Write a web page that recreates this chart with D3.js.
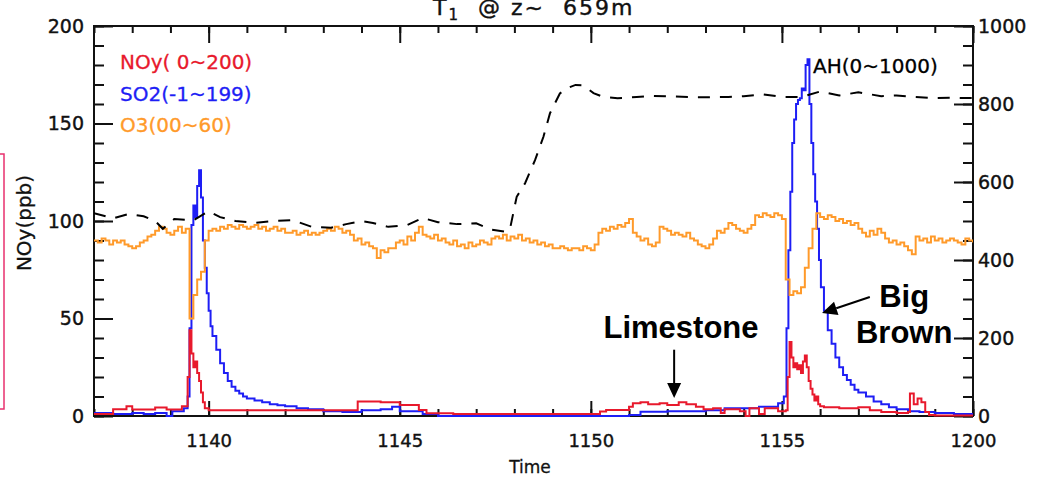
<!DOCTYPE html>
<html><head><meta charset="utf-8">
<script src="https://cdn.jsdelivr.net/npm/d3@7"></script>
<style>
html,body{margin:0;padding:0;background:#fff;overflow:hidden;}
svg{display:block;}
</style></head><body>
<svg id="chart" width="1037" height="481"></svg>
<script>
// ---------- DATA ----------
const timeTicks = [40, 45, 50, 55, 60];                 // minutes after 11:00
const timeTickLabels = ["1140", "1145", "1150", "1155", "1200"];
const leftTicks = [0, 50, 100, 150, 200];
const rightTicks = [0, 200, 400, 600, 800, 1000];
const legendLabels = ["NOy( 0~200)", "SO2(-1~199)", "O3(00~60)"];
const ahLabel = "AH(0~1000)";

// O3 sampled every 0.1 min from 11:37
const o3Start = 37, o3Step = 0.1;
const o3Values = [
  90, 89, 91, 90, 88, 90, 89, 90, 88, 87,
  86, 87, 89, 90, 92, 93, 95, 97, 96, 94,
  93, 95, 97, 94, 96, 50, 62, 70, 74, 90,
  95, 96, 95, 97, 96, 98, 97, 96, 98, 97,
  96, 97, 98, 96, 97, 95, 96, 97, 95, 96,
  94, 94, 95, 93, 94, 95, 93, 94, 93, 94,
  95, 96, 95, 97, 96, 94, 95, 93, 90, 91,
  88, 89, 87, 86, 81, 85, 84, 86, 86, 89,
  90, 88, 92, 90, 94, 97, 93, 92, 91, 93,
  90, 91, 89, 88, 90, 87, 88, 86, 89, 87,
  88, 90, 89, 88, 91, 92, 91, 93, 90, 92,
  91, 93, 90, 91, 89, 90, 88, 89, 87, 88,
  86, 86, 87, 86, 85, 86, 86, 85, 87, 86,
  85, 88, 94, 96, 95, 97, 96, 98, 97, 99,
  101, 94, 92, 90, 91, 88, 87, 89, 97, 96,
  95, 93, 94, 93, 92, 94, 91, 90, 88, 87,
  86, 88, 91, 95, 94, 96, 99, 98, 96, 95,
  94, 96, 98, 103, 102, 104, 103, 102, 104, 103,
  101, 70, 62, 64, 63, 66, 76, 86, 96, 104,
  102, 101, 103, 102, 100, 101, 99, 100, 98, 99,
  96, 94, 92, 95, 93, 96, 94, 91, 89, 90,
  88, 89, 87, 85, 83, 92, 90, 91, 89, 92,
  90, 91, 89, 90, 91, 90, 89, 88, 91, 90,
  89
];

// SO2 [minute, value]
const so2Data = [
  [37.0,1.5],[37.5,1],[38.0,1.5],[38.3,1],[38.6,1.5],[38.9,0],[39.05,2.5],[39.35,4],
  [39.45,10],[39.5,45],[39.55,98],[39.6,108],[39.65,102],[39.7,118],[39.75,126],[39.8,112],
  [39.85,90],[39.9,76],[39.95,63],[40.0,54],[40.05,46],[40.1,41],[40.2,34],[40.3,27],
  [40.4,22],[40.5,18],[40.6,15],[40.7,13],[40.8,11.5],[40.9,10],[41.0,9],[41.2,8],
  [41.4,7],[41.6,6],[41.8,5.5],[42.0,5],[42.3,4],[42.6,3.5],[43.0,2.5],[43.5,2],
  [44.0,3],[44.5,3.5],[44.8,4.8],[45.0,2.5],[45.6,1],[46.0,0],[51.0,0.5],[51.3,2.2],
  [52.0,2.5],[53.0,3],[53.5,4],[54.4,4.8],[54.9,6.5],[55.05,10],[55.12,45],[55.17,85],
  [55.22,115],[55.27,140],[55.32,152],[55.37,160],[55.42,162],[55.47,163],[55.52,168],[55.57,167],
  [55.62,180],[55.67,183],[55.72,160],[55.77,140],[55.82,124],[55.87,110],[55.92,96],[55.97,80],
  [56.02,66],[56.1,54],[56.2,44],[56.3,37],[56.4,30],[56.5,25],[56.6,21],[56.7,18.5],
  [56.8,16],[56.9,13.5],[57.0,12],[57.2,10],[57.4,7.5],[57.6,6],[57.8,4.5],[58.0,3.5],
  [58.3,2.5],[58.6,2],[59.0,1.5],[59.5,1],[60.0,1]
];

// NOy [minute, value]
const noyData = [
  [37.0,1],[37.5,3.5],[37.85,5],[38.0,3.3],[38.6,4.3],[38.9,3.3],[39.3,5],[39.45,20],
  [39.5,44],[39.55,32],[39.6,25],[39.65,28],[39.7,22],[39.75,18],[39.8,12],[39.85,7],
  [39.9,4],[40.0,3],[43.9,7.4],[44.5,7],[45.0,5.7],[45.5,3.1],[45.7,1.4],[46.4,1],
  [50.24,2.3],[50.4,3.1],[51.0,4.8],[51.1,6.5],[51.3,7],[51.5,6],[51.8,6.5],[52.0,5.6],
  [52.3,7],[52.5,6],[52.75,4.8],[52.95,3.5],[53.2,4],[53.4,1.5],[53.5,3.5],[53.9,2.5],
  [54.05,0],[54.15,4],[54.4,1],[54.55,4],[54.9,2.5],[55.1,3],[55.15,20],[55.2,38],
  [55.25,30],[55.3,25],[55.35,27],[55.4,24],[55.45,26],[55.5,22],[55.55,28],[55.6,31],
  [55.65,25],[55.7,18],[55.75,14],[55.8,11],[55.85,8],[55.9,10],[55.95,6],[56.0,5],
  [56.1,4.5],[56.5,4],[57.0,4.5],[57.3,3],[57.6,2],[58.0,1.5],[58.3,2],[58.35,11.5],
  [58.45,6],[58.55,9],[58.65,7],[58.75,2],[58.85,0.5],[59.0,0.3],[60.0,0.3]
];

// AH (right axis) [minute, value]
const ahData = [
  [37.0,520],[37.5,507],[37.9,518],[38.3,512],[38.6,500],[38.8,480],[39.1,505],[39.6,502],
  [40.0,525],[40.3,510],[40.7,500],[41.2,495],[41.7,500],[42.2,502],[42.7,485],[43.2,483],
  [43.6,492],[44.0,500],[44.3,495],[44.7,485],[45.2,490],[45.6,508],[46.0,497],[46.5,492],
  [47.0,494],[47.4,478],[47.8,472],[47.9,487],[48.06,562],[48.28,597],[48.54,656],[48.76,716],
  [48.93,776],[49.19,827],[49.37,840],[49.6,849],[49.8,848],[50.07,828],[50.3,819],[50.7,815],
  [51.2,818],[51.6,821],[52.2,819],[53.0,817],[53.6,818],[54.0,820],[54.5,825],[55.0,818],
  [55.5,818],[56.0,832],[56.5,822],[57.0,830],[57.6,820],[58.0,822],[58.5,818],[59.0,815],
  [59.5,816],[60.0,815]
];

// annotations in data coords: [minute, left-axis value]
const annLimestone = {text: "Limestone", at: [52.36, 40], from: [52.18, 34], to: [52.18, 9.2]};
const annBigBrown = {lines: ["Big", "Brown"], at: [58.2, 56], from: [57.30, 61], to: [56.05, 52.8]};

// ---------- LAYOUT ----------
const W = 1037, H = 481;
const L = 94, R = 973, T = 26, B = 416;
const AX = "#111";
const C_NOY = "#e8192c", C_SO2 = "#1e1ef5", C_O3 = "#ff9a2a";
const FONT = "'DejaVu Sans', sans-serif";
const BOLD = "'Liberation Sans', Arial, sans-serif";

const svg = d3.select("#chart");
svg.append("rect").attr("width", W).attr("height", H).attr("fill", "#fff");

const x = d3.scaleLinear().domain([37, 60]).range([L, R]);
const yL = d3.scaleLinear().domain([0, 200]).range([B, T]);
const yR = d3.scaleLinear().domain([0, 1000]).range([B, T]);

svg.append("defs").append("clipPath").attr("id", "clip")
  .append("rect").attr("x", L).attr("y", T - 1).attr("width", R - L).attr("height", B - T + 2);

function styleAxis(g, fs) {
  g.select(".domain").remove();
  g.selectAll(".tick line").attr("stroke", AX).attr("stroke-width", 2);
  g.selectAll(".tick text").attr("fill", AX).attr("font-family", FONT).attr("font-size", fs)
    .attr("stroke", AX).attr("stroke-width", 0.4);
}

// left axis
svg.append("g").attr("transform", `translate(${L},0)`)
  .call(d3.axisLeft(yL).tickValues(d3.range(0, 201, 10)).tickSize(-10).tickFormat(""))
  .call(g => styleAxis(g, 19));
svg.append("g").attr("transform", `translate(${L},0)`)
  .call(d3.axisLeft(yL).tickValues(leftTicks).tickSize(-19).tickPadding(10).tickFormat(d3.format("d")))
  .call(g => styleAxis(g, 19));

// right axis
svg.append("g").attr("transform", `translate(${R},0)`)
  .call(d3.axisRight(yR).tickValues(d3.range(0, 1001, 50)).tickSize(-10).tickFormat(""))
  .call(g => styleAxis(g, 19));
svg.append("g").attr("transform", `translate(${R},0)`)
  .call(d3.axisRight(yR).tickValues(rightTicks).tickSize(-19).tickPadding(5).tickFormat(d3.format("d")))
  .call(g => styleAxis(g, 19));

// bottom axis
svg.append("g").attr("transform", `translate(0,${B})`)
  .call(d3.axisBottom(x).tickValues(d3.range(37, 61, 1)).tickSize(-7).tickFormat(""))
  .call(g => styleAxis(g, 18));
svg.append("g").attr("transform", `translate(0,${B})`)
  .call(d3.axisBottom(x).tickValues(timeTicks).tickSize(-15).tickPadding(18)
    .tickFormat((d, i) => timeTickLabels[i]))
  .call(g => styleAxis(g, 18));

// top axis
svg.append("g").attr("transform", `translate(0,${T})`)
  .call(d3.axisTop(x).tickValues(d3.range(37, 61, 1)).tickSize(-7).tickFormat(""))
  .call(g => styleAxis(g, 18));
svg.append("g").attr("transform", `translate(0,${T})`)
  .call(d3.axisTop(x).tickValues(timeTicks).tickSize(-17).tickFormat(""))
  .call(g => styleAxis(g, 18));

// frame
svg.append("rect").attr("x", L).attr("y", T).attr("width", R - L).attr("height", B - T)
  .attr("fill", "none").attr("stroke", AX).attr("stroke-width", 2);

// ---------- SERIES ----------
const plot = svg.append("g").attr("clip-path", "url(#clip)");
const stepL = d3.line().x(d => x(d[0])).y(d => yL(d[1])).curve(d3.curveStepAfter);
const o3Data = o3Values.map((v, i) => [o3Start + i * o3Step, v]);

plot.append("path").datum(so2Data).attr("d", stepL)
  .attr("fill", "none").attr("stroke", C_SO2).attr("stroke-width", 2);
plot.append("path").datum(noyData).attr("d", stepL)
  .attr("fill", "none").attr("stroke", C_NOY).attr("stroke-width", 2);
plot.append("path").datum(o3Data).attr("d", stepL)
  .attr("fill", "none").attr("stroke", C_O3).attr("stroke-width", 2);
plot.append("path").datum(ahData)
  .attr("d", d3.line().x(d => x(d[0])).y(d => yR(d[1])))
  .attr("fill", "none").attr("stroke", "#000").attr("stroke-width", 2)
  .attr("stroke-dasharray", "12,10");

// ---------- LEGEND ----------
const legendColors = [C_NOY, C_SO2, C_O3];
svg.selectAll(".leg").data(legendLabels).enter().append("text")
  .attr("x", 120).attr("y", (d, i) => 69 + i * 31.5)
  .attr("font-family", FONT).attr("font-size", 20)
  .attr("fill", (d, i) => legendColors[i]).attr("stroke", (d, i) => legendColors[i])
  .attr("stroke-width", 0.3).text(d => d);

svg.append("text").attr("x", 813).attr("y", 73)
  .attr("font-family", FONT).attr("font-size", 20).attr("fill", "#000")
  .attr("stroke", "#000").attr("stroke-width", 0.3).text(ahLabel);

// ---------- TITLES ----------
const title = svg.append("text").attr("x", 433).attr("y", 15)
  .attr("font-family", FONT).attr("font-size", 22).attr("letter-spacing", 2)
  .attr("fill", AX).attr("stroke", AX).attr("stroke-width", 0.4).attr("xml:space", "preserve");
title.append("tspan").text("T");
title.append("tspan").attr("font-size", 15).attr("dy", 5).text("1");
title.append("tspan").attr("dy", -5).text("  @ z~  659m");

svg.append("text").attr("x", 530).attr("y", 473).attr("text-anchor", "middle")
  .attr("font-family", FONT).attr("font-size", 17).attr("fill", AX)
  .attr("stroke", AX).attr("stroke-width", 0.3).text("Time");

svg.append("text").attr("transform", "translate(31,223) rotate(-90)")
  .attr("text-anchor", "middle").attr("font-family", FONT).attr("font-size", 20)
  .attr("fill", AX).attr("stroke", AX).attr("stroke-width", 0.3).text("NOy(ppb)");

// pink box at left edge
svg.append("rect").attr("x", -10).attr("y", 154).attr("width", 14).attr("height", 255)
  .attr("fill", "none").attr("stroke", "#e8306e").attr("stroke-width", 1.5);

// ---------- ANNOTATIONS ----------
function arrow(from, to) {
  const x1 = x(from[0]), y1 = yL(from[1]), x2 = x(to[0]), y2 = yL(to[1]);
  const ang = Math.atan2(y2 - y1, x2 - x1), len = 15, hw = 7;
  const bx = x2 - len * Math.cos(ang), by = y2 - len * Math.sin(ang);
  svg.append("line").attr("x1", x1).attr("y1", y1).attr("x2", bx).attr("y2", by)
    .attr("stroke", "#000").attr("stroke-width", 2);
  const px = -Math.sin(ang) * hw, py = Math.cos(ang) * hw;
  svg.append("path").attr("d", `M${x2},${y2}L${bx + px},${by + py}L${bx - px},${by - py}Z`)
    .attr("fill", "#000");
}
svg.append("text").attr("x", x(annLimestone.at[0])).attr("y", yL(annLimestone.at[1]))
  .attr("text-anchor", "middle").attr("font-family", BOLD).attr("font-weight", "bold")
  .attr("font-size", 31).attr("fill", "#000").text(annLimestone.text);
arrow(annLimestone.from, annLimestone.to);

svg.selectAll(".bb").data(annBigBrown.lines).enter().append("text")
  .attr("x", x(annBigBrown.at[0])).attr("y", (d, i) => yL(annBigBrown.at[1]) + i * 36.5)
  .attr("text-anchor", "middle").attr("font-family", BOLD).attr("font-weight", "bold")
  .attr("font-size", 31).attr("fill", "#000").text(d => d);
arrow(annBigBrown.from, annBigBrown.to);
</script>
</body></html>
